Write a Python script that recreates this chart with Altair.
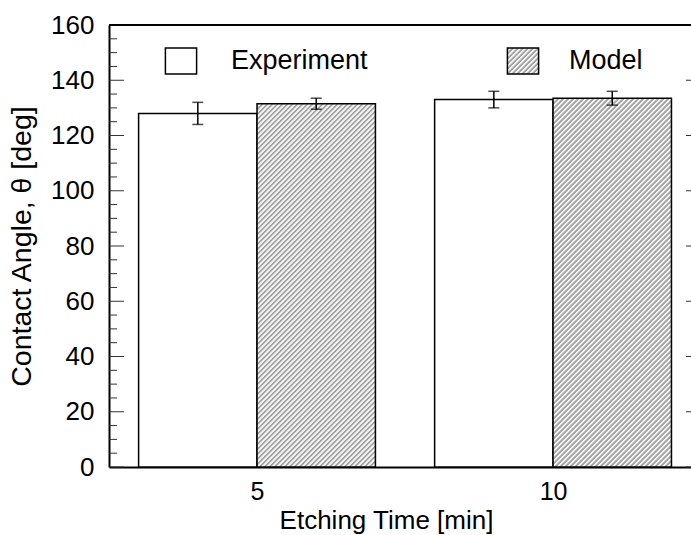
import math
import altair as alt
import pandas as pd

# ---- data ----
times = [5, 10]
experiment = [128, 133]
experiment_err = [4, 3]
model = [131.5, 133.5]
model_err = [2, 2.5]
y_major = [0, 20, 40, 60, 80, 100, 120, 140, 160]
y_minor = [v for v in range(0, 161, 5) if v % 20]
x_ticks = [5, 10]

FONT = "Liberation Sans"
BAR = 2  # bar width in minutes
W, H = 582, 442
X_DOMAIN = [2.5, 12.33]
Y_DOMAIN = [0, 160]
PX_X = W / (X_DOMAIN[1] - X_DOMAIN[0])
PX_Y = H / (Y_DOMAIN[1] - Y_DOMAIN[0])

PERIOD = 5 / math.sqrt(2)  # 5 px horizontal stripe period at 45 degrees


def stripes(w, h, dark="#a4a4a4", light="#f4f4f4"):
    length = (w + h) / math.sqrt(2)
    stops = []
    k = 0
    pattern = [(0.0, dark), (0.33, dark), (0.5, light), (0.83, light)]
    while k * PERIOD < length:
        for f, c in pattern:
            o = (k + f) * PERIOD / length
            if o <= 1:
                stops.append((round(o, 6), c))
        k += 1
    s = w * w + h * h
    return round(w * (w + h) / s, 7), round(h * (w + h) / s, 7), stops


def grad(w, h):
    gx, gy, st = stripes(w, h)
    return {"gradient": "linear", "x1": 0, "y1": 0, "x2": gx, "y2": gy,
            "stops": [{"offset": o, "color": c} for o, c in st]}


lx, ly, lst = stripes(31.2, 26)
legend_expr = ("{gradient:'linear',x1:0,y1:0,x2:%s,y2:%s,stops:[%s]}" %
               (lx, ly, ",".join("{offset:%s,color:'%s'}" % (o, c) for o, c in lst)))

rows = []
for t, v, e in zip(times, experiment, experiment_err):
    rows.append({"time": t, "series": "Experiment", "value": v, "err": e})
for t, v, e in zip(times, model, model_err):
    rows.append({"time": t, "series": "Model", "value": v, "err": e})
df = pd.DataFrame(rows)

tick_df = pd.DataFrame({"v": y_major + y_minor,
                        "major": [1] * len(y_major) + [0] * len(y_minor)})

base = alt.Chart(df).transform_calculate(
    side="datum.series == 'Experiment' ? -1 : 1"
).transform_calculate(
    x0=f"datum.side < 0 ? datum.time - {BAR} : datum.time",
    x1=f"datum.side < 0 ? datum.time : datum.time + {BAR}",
    xc=f"datum.time + datum.side * {BAR / 2}",
    lo="datum.value - datum.err",
    hi="datum.value + datum.err",
)

xscale = alt.Scale(domain=X_DOMAIN, nice=False, zero=False)
yscale = alt.Scale(domain=Y_DOMAIN, nice=False)

xaxis = alt.Axis(values=x_ticks, format="d", ticks=False, tickSize=0, domain=True, domainColor="black",
                 domainWidth=2, grid=False, labelFont=FONT, labelFontSize=25, labelColor="black",
                 labelPadding=12, labelFlush=False, title="Etching Time [min]", titleFont=FONT,
                 titleFontSize=26, titleFontWeight="normal", titleColor="black", titlePadding=3,
                 titleX=277)
yaxis = alt.Axis(values=y_major, ticks=False, tickSize=0, domain=True, domainColor="black",
                 domainWidth=2, grid=False, labelFont=FONT, labelFontSize=26, labelColor="black",
                 labelPadding=15, labelFlush=False, labelOverlap=False,
                 title="Contact Angle, θ [deg]", titleFont=FONT,
                 titleFontSize=28.5, titleFontWeight="normal", titleColor="black", titlePadding=14)

exp = base.transform_filter("datum.series == 'Experiment'")
mod = base.transform_filter("datum.series == 'Model'")

SWATCH = "M-1.2,-1H1.2V1H-1.2Z"


def make_legend(x, y, fill, offset):
    return alt.Legend(orient="none", legendX=x, legendY=y, title=None, padding=0,
                      symbolType=SWATCH, symbolSize=676, symbolFillColor=fill,
                      symbolStrokeColor="black", symbolStrokeWidth=1.5, symbolOpacity=1,
                      labelFont=FONT, labelFontSize=27, labelColor="black", labelOffset=offset)


exp_bars = exp.mark_bar(fill="white", stroke="black", strokeWidth=1.5).encode(
    x=alt.X("x0:Q", scale=xscale, axis=xaxis),
    x2="x1:Q",
    y=alt.Y("value:Q", scale=yscale, axis=yaxis),
    y2=alt.datum(0),
)

mod_bars = []
for t, v in zip(times, model):
    mod_bars.append(
        mod.transform_filter(f"datum.time == {t}")
        .mark_bar(fill=grad(BAR * PX_X, v * PX_Y), stroke="black", strokeWidth=1.5)
        .encode(x="x0:Q", x2="x1:Q", y="value:Q", y2=alt.datum(0))
    )

exp_err = exp.mark_rule(color="black", strokeWidth=1.5).encode(
    x="xc:Q", y="lo:Q", y2="hi:Q",
    opacity=alt.Opacity("series:N", scale=alt.Scale(domain=["Experiment"], range=[1]),
                        legend=make_legend(58, 22, "white", 36)),
)
mod_err = mod.mark_rule(color="black", strokeWidth=1.5).encode(
    x="xc:Q", y="lo:Q", y2="hi:Q",
    opacity=alt.Opacity("series:N", scale=alt.Scale(domain=["Model"], range=[1]),
                        legend=make_legend(400, 22, alt.ExprRef(expr=legend_expr), 32)),
)
cap_lo = base.mark_tick(orient="horizontal", size=11, thickness=1.5, color="black").encode(
    x="xc:Q", y="lo:Q")
cap_hi = base.mark_tick(orient="horizontal", size=11, thickness=1.5, color="black").encode(
    x="xc:Q", y="hi:Q")

RIGHT = 592
ticks = alt.Chart(tick_df)
lmaj = ticks.transform_filter("datum.major == 1").mark_rule(color="#333", strokeWidth=1).encode(
    y="v:Q", x=alt.value(0), x2=alt.value(15))
lmin = ticks.transform_filter("datum.major == 0").mark_rule(color="#333", strokeWidth=1).encode(
    y="v:Q", x=alt.value(0), x2=alt.value(8))
rmaj = ticks.transform_filter("datum.major == 1").mark_rule(color="#333", strokeWidth=1).encode(
    y="v:Q", x=alt.value(RIGHT), x2=alt.value(RIGHT - 15))
rmin = ticks.transform_filter("datum.major == 0").mark_rule(color="#333", strokeWidth=1).encode(
    y="v:Q", x=alt.value(RIGHT), x2=alt.value(RIGHT - 8))
top = alt.Chart(pd.DataFrame({"top": [y_major[-1]]})).mark_rule(color="black", strokeWidth=2).encode(
    y="top:Q")

chart = alt.layer(
    exp_bars, *mod_bars, exp_err, mod_err, cap_lo, cap_hi, lmaj, lmin, rmaj, rmin, top
).resolve_scale(opacity="independent").properties(
    width=W, height=H,
    padding={"left": 109, "top": 25, "right": 0, "bottom": 68},
    autosize=alt.AutoSizeParams(type="none"),
).configure_view(stroke="transparent")

chart.save("out.html", embed_options={"renderer": "svg", "actions": False})
